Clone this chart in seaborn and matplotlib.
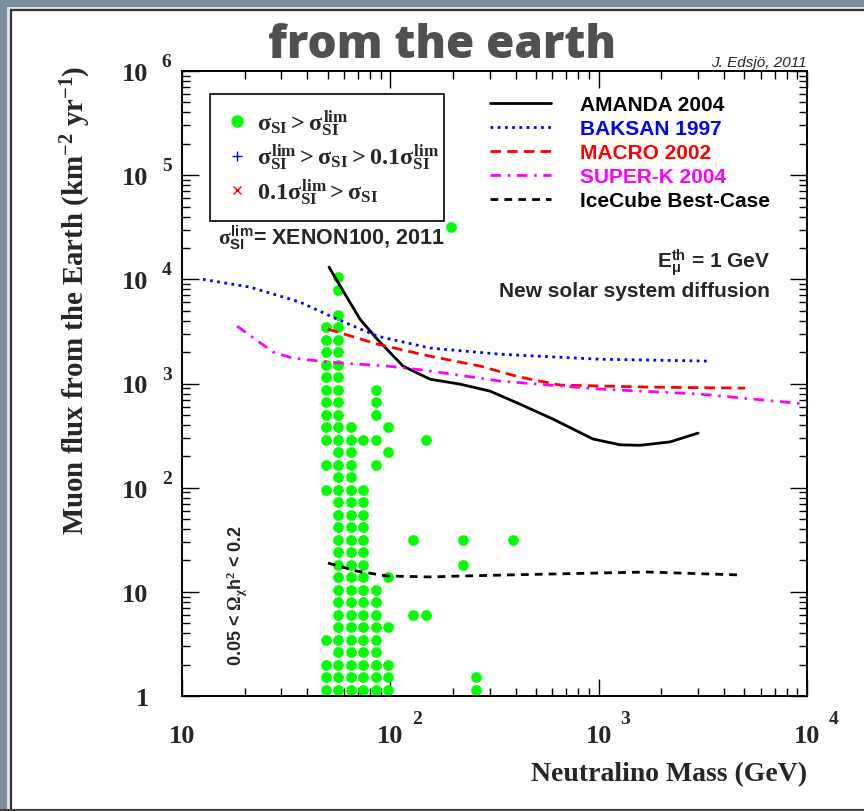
import numpy as np
import pandas as pd
import matplotlib
matplotlib.use("Agg")
import matplotlib.pyplot as plt
import matplotlib.transforms as mtransforms
from matplotlib.lines import Line2D
from matplotlib.patches import Rectangle
import seaborn as sns

# ---------------- data ----------------
amanda_mass = [50.8, 60.6, 71.5, 86.4, 115, 155, 216, 301, 419, 604, 940, 1267, 1580, 2200, 3000]
amanda_flux = [13100, 7210, 4150, 2670, 1470, 1100, 986, 845, 634, 455, 293, 258, 255, 275, 334]

baksan_mass = [12.6, 21.2, 36.9, 55.5, 86.4, 155, 336, 1016, 3425]
baksan_flux = [10000, 8420, 6040, 4150, 2850, 2190, 1910, 1710, 1640]

macro_mass = [50.2, 86.4, 155, 270, 419, 653, 1765, 5045]
macro_flux = [3330, 2390, 1830, 1470, 1150, 966, 923, 903]

superk_mass = [18.4, 27.4, 34.1, 51.3, 96.4, 144, 336, 1016, 3068, 10000]
superk_flux = [3550, 2000, 1750, 1600, 1470, 1345, 1055, 883, 791, 634]

icecube_mass = [50.2, 69.2, 96.4, 155, 223, 565, 1706, 4875]
icecube_flux = [18.9, 15.8, 14.2, 13.9, 14.2, 14.8, 15.5, 14.5]

# model points (sigma_SI > sigma_SI^lim), grouped by neutralino mass
model_points = {
    49.0: [1.15, 1.51, 2.0, 3.47, 95.5, 166, 288, 380, 501, 661, 871, 1150, 1510, 2000, 2630, 3470],
    56.2: [1.15, 1.51, 2.0, 2.63, 3.47, 4.57, 6.03, 7.94, 10.5, 13.8, 18.2, 24.0, 31.6, 41.7, 55.0,
           72.4, 95.5, 126, 166, 219, 288, 380, 501, 661, 871, 1150, 1510, 2000, 2630, 3470, 4570,
           7940, 10500],
    64.6: [1.15, 1.51, 2.0, 2.63, 3.47, 4.57, 6.03, 7.94, 10.5, 13.8, 18.2, 24.0, 31.6, 41.7, 55.0,
           72.4, 95.5, 126, 166, 219, 288, 380],
    74.1: [1.15, 1.51, 2.0, 2.63, 3.47, 4.57, 6.03, 7.94, 10.5, 13.8, 18.2, 24.0, 31.6, 41.7, 55.0,
           72.4, 95.5, 288],
    85.1: [1.15, 1.51, 2.0, 2.63, 3.47, 4.57, 6.03, 7.94, 10.5, 166, 288, 501, 661, 871],
    97.7: [1.15, 1.51, 2.0, 4.57, 13.8, 219, 380],
    129: [6.03, 31.6],
    148: [6.03, 288],
    195: [31600],
    224: [18.2, 31.6],
    257: [1.15, 1.51],
    389: [31.6],
}

x_ticks = [10, 100, 1000, 10000]
x_exponents = ["", "2", "3", "4"]
y_ticks = [1, 10, 100, 1000, 1e4, 1e5, 1e6]
y_base_labels = ["1", "10", "10", "10", "10", "10", "10"]
y_exponents = ["", "", "2", "3", "4", "5", "6"]

experiments = ["AMANDA 2004", "BAKSAN 1997", "MACRO 2002", "SUPER-K 2004", "IceCube Best-Case"]
exp_colors = ["black", "#0000ff", "#ff0000", "#ff00ff", "black"]

# ---------------- style ----------------
sns.set_theme(style="ticks")
plt.rcParams.update({
    "font.family": ["Liberation Sans", "DejaVu Sans"],
    "mathtext.fontset": "custom",
    "mathtext.rm": "Liberation Serif:bold",
    "mathtext.it": "Liberation Serif:bold",
    "mathtext.bf": "Liberation Serif:bold",
    "mathtext.sf": "Liberation Sans:bold",
    "axes.linewidth": 1.4,
    "axes.edgecolor": "black",
})

W, H = 864, 812
fig = plt.figure(figsize=(W / 100, H / 100), dpi=100, facecolor="white")

# slide frame around the plot
fig.add_artist(Rectangle((0, 0), 7 / W, 1, transform=fig.transFigure, color="#7b8f9e", lw=0))
fig.add_artist(Rectangle((0, 1 - 8 / H), 1, 8 / H, transform=fig.transFigure, color="#7b8f9e", lw=0))
fig.add_artist(Rectangle((7 / W, 0), 2.5 / W, 1 - 8 / H, transform=fig.transFigure, color="#dde3e8", lw=0))
fig.add_artist(Rectangle((7 / W, 1 - 10.5 / H), 1, 2.5 / H, transform=fig.transFigure, color="#dde3e8", lw=0))
fig.add_artist(Line2D([10.5 / W, 10.5 / W], [0, 1 - 10.5 / H], transform=fig.transFigure, color="#333333", lw=1.6))
fig.add_artist(Line2D([10.5 / W, 1], [1 - 11 / H, 1 - 11 / H], transform=fig.transFigure, color="#333333", lw=1.6))
fig.add_artist(Line2D([0, 1], [1.5 / H, 1.5 / H], transform=fig.transFigure, color="#444444", lw=1.6))

ax = fig.add_axes([182 / W, 1 - 697 / H, 625 / W, 625 / H])
ax.set_xscale("log")
ax.set_yscale("log")
ax.set_xlim(10, 1e4)
ax.set_ylim(1, 1e6)

# model points
dots = pd.DataFrame([(m, f) for m, fl in model_points.items() for f in fl], columns=["mass", "flux"])
sns.scatterplot(data=dots, x="mass", y="flux", ax=ax, color="#00ff00", s=60, linewidth=0, zorder=2,
                legend=False)

# experimental limits
styles = [
    dict(linestyle="-", lw=2.0),
    dict(linestyle=(0, (1.0, 1.6)), lw=2.0),
    dict(linestyle=(0, (3.8, 2.2)), lw=2.0),
    dict(linestyle=(0, (3.8, 2.4, 0.9, 2.4)), lw=2.0),
    dict(linestyle=(0, (2.8, 2.2)), lw=2.0),
]
series = [(amanda_mass, amanda_flux), (baksan_mass, baksan_flux), (macro_mass, macro_flux),
          (superk_mass, superk_flux), (icecube_mass, icecube_flux)]
for (mx, fy), col, st in zip(series, exp_colors, styles):
    sns.lineplot(x=mx, y=fy, ax=ax, color=col, sort=False, estimator=None, zorder=3, **st)

# axes, ticks and labels
ax.tick_params(which="both", direction="in", top=True, right=True, width=1.0, color="black")
ax.tick_params(which="major", length=12.5)
ax.tick_params(which="minor", length=6)
ax.set_xticks(x_ticks)
ax.set_xticklabels(["10"] * 4, fontfamily="Liberation Serif", fontweight="bold", fontsize=19)
ax.tick_params(axis="x", which="major", pad=20)
ax.set_yticks(y_ticks)
ax.set_yticklabels(y_base_labels, fontfamily="Liberation Serif", fontweight="bold", fontsize=19)
ax.tick_params(axis="y", which="major", pad=24)

xtr = mtransforms.blended_transform_factory(ax.transData, ax.transAxes)
for v, e in zip(x_ticks, x_exponents):
    if e:
        ax.annotate(e, xy=(v, 0), xycoords=xtr, xytext=(15.5, -19.5), textcoords="offset points",
                    ha="left", va="baseline", fontsize=14, fontfamily="Liberation Serif",
                    fontweight="bold", annotation_clip=False)
ytr = mtransforms.blended_transform_factory(ax.transAxes, ax.transData)
for v, e in zip(y_ticks, y_exponents):
    if e:
        ax.annotate(e, xy=(0, v), xycoords=ytr, xytext=(-14.5, 3.5), textcoords="offset points",
                    ha="left", va="baseline", fontsize=14, fontfamily="Liberation Serif",
                    fontweight="bold", annotation_clip=False)

ax.set_xlabel("Neutralino Mass (GeV)", fontfamily="Liberation Serif", fontweight="bold", fontsize=20,
              ha="right")
ax.xaxis.set_label_coords(1.0, -0.104)
ax.set_ylabel(r"Muon flux from the Earth (km$^{-2}$ yr$^{-1}$)", fontfamily="Liberation Serif",
              fontweight="bold", fontsize=20.8)
ax.yaxis.set_label_coords(-0.142, 0.635)

# left legend: model classes
left_handles = [
    Line2D([], [], ls="none", marker="o", ms=8, color="#00ff00", mec="#00ff00"),
    Line2D([], [], ls="none", marker="+", ms=7, mew=1.0, color="#0000ff"),
    Line2D([], [], ls="none", marker="x", ms=6, mew=1.0, color="#ff0000"),
]
left_labels = [
    r"$\sigma_{\rm SI} > \sigma_{\rm SI}^{\rm lim}$",
    r"$\sigma_{\rm SI}^{\rm lim} > \sigma_{\rm SI} > 0.1\sigma_{\rm SI}^{\rm lim}$",
    r"$0.1\sigma_{\rm SI}^{\rm lim} > \sigma_{\rm SI}$",
]
leg1 = ax.legend(left_handles, left_labels, loc="upper left", bbox_to_anchor=(0.0448, 0.76, 0.3744, 0.2032),
                 mode="expand", fontsize=17.5, frameon=True, fancybox=False, edgecolor="black",
                 framealpha=1, borderpad=0.55, handlelength=1.15, handletextpad=0.25, labelspacing=0.18,
                 borderaxespad=0)
leg1.get_frame().set_linewidth(1.2)
ax.add_artist(leg1)

# right legend: experimental limits
right_handles = [Line2D([], [], color=c, **st) for c, st in zip(exp_colors, styles)]
leg2 = ax.legend(right_handles, experiments, loc="upper left", bbox_to_anchor=(0.4928, 0.961),
                 frameon=False, prop={"family": "Liberation Sans", "weight": "bold", "size": 15},
                 handlelength=2.95, handletextpad=1.35, labelspacing=0.24, borderpad=0, borderaxespad=0)
for t, c in zip(leg2.get_texts(), exp_colors):
    t.set_color(c)

# annotations
ax.text(0.058, 0.7227, r"$\sigma_{\mathsf{SI}}^{\mathsf{lim}}$= XENON100, 2011", transform=ax.transAxes,
        fontsize=15.5, fontweight="bold", ha="left", va="baseline")
ax.text(0.9408, 0.6864, r"E$_{\mathsf{\mu}}^{\mathsf{th}}$ = 1 GeV", transform=ax.transAxes,
        fontsize=15, fontweight="bold", ha="right", va="baseline")
ax.text(0.9408, 0.6400, "New solar system diffusion", transform=ax.transAxes,
        fontsize=15, fontweight="bold", ha="right", va="baseline")
ax.text(0.088, 0.162, r"0.05 < $\Omega_{\chi}$h$^{2}$ < 0.2", transform=ax.transAxes, rotation=90,
        fontsize=13, fontweight="bold", ha="center", va="center")

fig.text(807 / W, 1 - 67 / H, "J. Edsjö, 2011", fontsize=11, fontstyle="italic", ha="right",
         va="baseline", family="Liberation Sans")
fig.text(442 / W, 1 - 58 / H, "from the earth", fontsize=33, fontweight="heavy", color="#505050",
         ha="center", va="baseline", family=["Open Sans", "DejaVu Sans"])

fig.savefig("out.png", dpi=100, facecolor=fig.get_facecolor())
